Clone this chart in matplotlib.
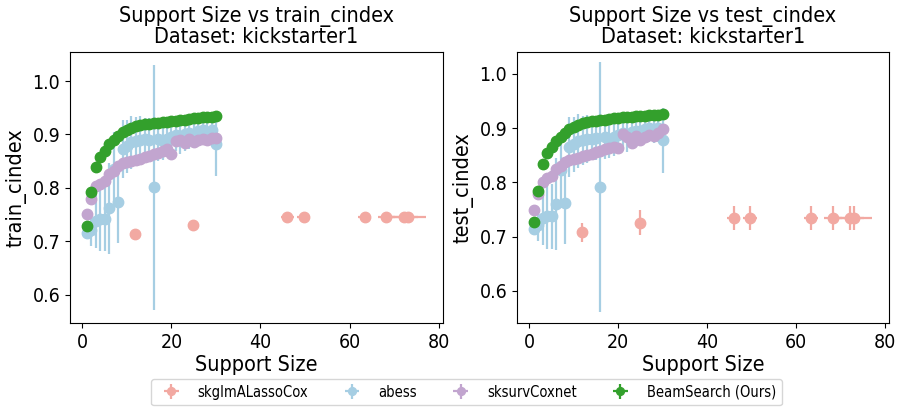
import numpy as np
import matplotlib
matplotlib.use("Agg")
import matplotlib.pyplot as plt

plt.rcParams["font.family"] = ["DejaVu Sans"]
plt.rcParams["font.stretch"] = "condensed"

dataset = "kickstarter1"
methods = ["skglmALassoCox", "abess", "sksurvCoxnet", "BeamSearch (Ours)"]
colors = ["#f2a9a2", "#a6cee3", "#c2a5cf", "#33a02c"]

# support sizes
k = list(range(1, 31))

# skglmALassoCox (support size varies across folds)
lasso_k = [11.8, 24.9, 46.0, 49.7, 63.4, 68.3, 72.3, 73.2]
lasso_k_err = [0.0, 0.0, 1.5, 1.5, 1.5, 2.0, 3.0, 4.0]
lasso_train = [0.713, 0.731, 0.745, 0.745, 0.746, 0.746, 0.746, 0.746]
lasso_train_err = [0.003, 0.003, 0.003, 0.003, 0.003, 0.003, 0.003, 0.003]
lasso_test = [0.708, 0.726, 0.734, 0.735, 0.734, 0.734, 0.734, 0.734]
lasso_test_err = [0.018, 0.023, 0.022, 0.022, 0.022, 0.022, 0.022, 0.022]

abess_train = [0.716, 0.722, 0.738, 0.742, 0.742, 0.762, 0.835, 0.773, 0.873, 0.878,
               0.885, 0.887, 0.889, 0.891, 0.890, 0.801, 0.891, 0.888, 0.892, 0.895,
               0.899, 0.893, 0.900, 0.903, 0.901, 0.906, 0.909, 0.905, 0.908, 0.882]
abess_train_err = [0.012, 0.03, 0.05, 0.06, 0.06, 0.085, 0.07, 0.076, 0.055, 0.05,
                   0.05, 0.045, 0.045, 0.04, 0.04, 0.23, 0.04, 0.035, 0.035, 0.03,
                   0.03, 0.03, 0.03, 0.03, 0.025, 0.025, 0.025, 0.025, 0.025, 0.06]
abess_test = [0.715, 0.722, 0.735, 0.738, 0.738, 0.760, 0.823, 0.762, 0.865, 0.870,
              0.876, 0.878, 0.880, 0.881, 0.882, 0.792, 0.883, 0.880, 0.884, 0.888,
              0.891, 0.886, 0.893, 0.895, 0.894, 0.898, 0.900, 0.898, 0.900, 0.878]
abess_test_err = [0.012, 0.03, 0.05, 0.06, 0.06, 0.085, 0.07, 0.076, 0.055, 0.05,
                  0.05, 0.045, 0.045, 0.04, 0.04, 0.23, 0.04, 0.035, 0.035, 0.03,
                  0.03, 0.03, 0.03, 0.03, 0.025, 0.025, 0.025, 0.025, 0.025, 0.06]

coxnet_train = [0.751, 0.780, 0.803, 0.808, 0.812, 0.826, 0.831, 0.841, 0.846, 0.848,
                0.851, 0.853, 0.855, 0.858, 0.860, 0.863, 0.866, 0.870, 0.873, 0.864,
                0.887, 0.889, 0.884, 0.891, 0.885, 0.889, 0.892, 0.890, 0.893, 0.893]
coxnet_test = [0.749, 0.778, 0.800, 0.808, 0.812, 0.825, 0.830, 0.838, 0.842, 0.844,
               0.846, 0.848, 0.850, 0.853, 0.856, 0.858, 0.861, 0.864, 0.866, 0.863,
               0.890, 0.883, 0.872, 0.885, 0.878, 0.884, 0.888, 0.885, 0.892, 0.898]

beam_train = [0.728, 0.793, 0.839, 0.857, 0.870, 0.882, 0.890, 0.898, 0.904, 0.908,
              0.912, 0.915, 0.917, 0.919, 0.920, 0.921, 0.922, 0.923, 0.924, 0.925,
              0.926, 0.927, 0.928, 0.929, 0.930, 0.931, 0.932, 0.932, 0.933, 0.935]
beam_test = [0.727, 0.785, 0.834, 0.854, 0.866, 0.876, 0.884, 0.892, 0.898, 0.903,
             0.906, 0.909, 0.911, 0.913, 0.914, 0.915, 0.916, 0.917, 0.918, 0.919,
             0.920, 0.920, 0.921, 0.922, 0.922, 0.923, 0.924, 0.924, 0.925, 0.926]

zeros = [0.0] * len(k)

panels = [
    ("train_cindex", lasso_train, lasso_train_err, abess_train, abess_train_err,
     coxnet_train, beam_train, (0.547, 1.055)),
    ("test_cindex", lasso_test, lasso_test_err, abess_test, abess_test_err,
     coxnet_test, beam_test, (0.541, 1.041)),
]

fig = plt.figure(figsize=(9.02, 4.08), dpi=100)
axes = [fig.add_axes([0.0776, 0.2083, 0.4135, 0.665]),
        fig.add_axes([0.5732, 0.2083, 0.4124, 0.665])]

for ax, (metric, l_y, l_e, a_y, a_e, c_y, b_y, ylim) in zip(axes, panels):
    series = [
        (lasso_k, l_y, lasso_k_err, l_e),
        (k, a_y, zeros, a_e),
        (k, c_y, zeros, zeros),
        (k, b_y, zeros, zeros),
    ]
    for (xs, ys, xe, ye), name, col in zip(series, methods, colors):
        ax.errorbar(xs, ys, xerr=xe, yerr=ye, fmt="o", color=col, ecolor=col,
                    markersize=7.5, elinewidth=1.6, capsize=0, label=name)
    ax.set_xlim(-2.8, 81)
    ax.set_ylim(*ylim)
    ax.set_xticks([0, 20, 40, 60, 80])
    ax.set_yticks([0.6, 0.7, 0.8, 0.9, 1.0])
    ax.tick_params(labelsize=14)
    ax.set_xlabel("Support Size", fontsize=15.5, labelpad=2)
    ax.set_ylabel(metric, fontsize=15.5)
    ax.set_title(f"Support Size vs {metric}\nDataset: {dataset}", fontsize=15.5,
                 linespacing=1.05)

handles, labels = axes[0].get_legend_handles_labels()
fig.legend(handles, labels, loc="center", ncol=4, fontsize=10.5, markerscale=0.75,
           bbox_to_anchor=(0.517, 0.039), frameon=True)

fig.savefig("out.png", dpi=100)
